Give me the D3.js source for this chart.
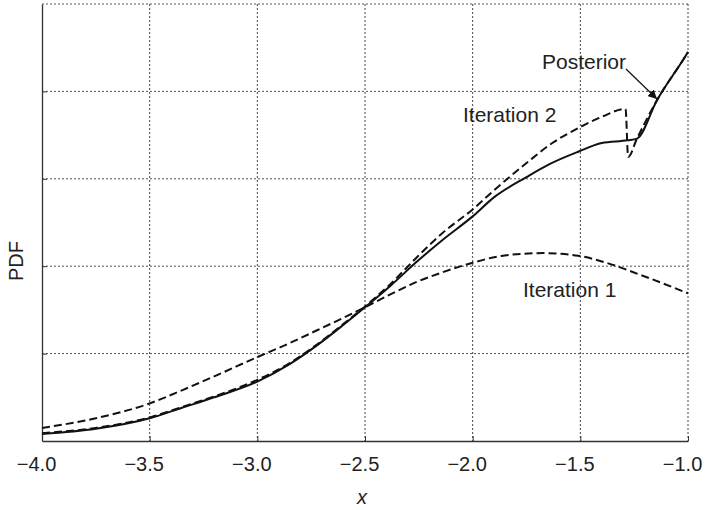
<!DOCTYPE html>
<html>
<head>
<meta charset="utf-8">
<script src="https://cdn.jsdelivr.net/npm/d3@7"></script>
<style>
  body { margin: 0; background: #fff; }
  text { font-family: "Liberation Sans", Arial, sans-serif; fill: #222; }
</style>
</head>
<body>
<div id="chart"></div>
<script>
var w = 706;
var h = 510;

// x positions and PDF values
var postX = [-4.0, -3.75, -3.5, -3.35, -3.2, -3.0, -2.85, -2.72, -2.6, -2.5, -2.38, -2.26, -2.14, -2.0, -1.9, -1.75, -1.65, -1.51, -1.4, -1.28, -1.237, -1.144, -1.023, -1.0];
var postY = [0.08, 0.14, 0.26, 0.38, 0.50, 0.68, 0.88, 1.10, 1.33, 1.53, 1.78, 2.05, 2.30, 2.57, 2.79, 3.02, 3.16, 3.31, 3.41, 3.44, 3.46, 3.90, 4.36, 4.45];

var it2X = [-4.0, -3.75, -3.5, -3.35, -3.2, -3.0, -2.85, -2.72, -2.6, -2.5, -2.38, -2.26, -2.14, -2.0, -1.9, -1.75, -1.63, -1.51, -1.4, -1.29, -1.278, -1.237, -1.144, -1.023, -1.0];
var it2Y = [0.09, 0.15, 0.27, 0.39, 0.51, 0.70, 0.89, 1.11, 1.34, 1.54, 1.80, 2.10, 2.38, 2.65, 2.87, 3.18, 3.41, 3.58, 3.71, 3.80, 3.25, 3.46, 3.90, 4.36, 4.45];

var it1X = [-4.0, -3.75, -3.5, -3.35, -3.2, -3.0, -2.85, -2.72, -2.6, -2.5, -2.38, -2.26, -2.14, -2.0, -1.86, -1.67, -1.51, -1.38, -1.22, -1.0];
var it1Y = [0.15, 0.26, 0.43, 0.58, 0.74, 0.96, 1.12, 1.27, 1.41, 1.53, 1.68, 1.82, 1.93, 2.04, 2.12, 2.15, 2.12, 2.04, 1.90, 1.69];

var xTicks = [-4.0, -3.5, -3.0, -2.5, -2.0, -1.5, -1.0];
var yGrid = [1, 2, 3, 4, 5];

var padL = 42, padR = 688, padT = 4, padB = 441;

var x = d3.scaleLinear().domain([-4, -1]).range([padL, padR]);
var y = d3.scaleLinear().domain([0, 5]).range([padB, padT]);

var svg = d3.select("#chart")
    .append("svg")
    .attr("width", w)
    .attr("height", h);

// grid
svg.selectAll("line.vgrid")
    .data(xTicks.slice(1))
    .enter()
    .append("line")
    .attr("class", "vgrid")
    .attr("x1", function(d){ return x(d); })
    .attr("x2", function(d){ return x(d); })
    .attr("y1", padT)
    .attr("y2", padB)
    .attr("stroke", "#444")
    .attr("stroke-width", 1)
    .attr("stroke-dasharray", "2,2");

svg.selectAll("line.hgrid")
    .data(yGrid)
    .enter()
    .append("line")
    .attr("class", "hgrid")
    .attr("x1", padL)
    .attr("x2", padR)
    .attr("y1", function(d){ return y(d); })
    .attr("y2", function(d){ return y(d); })
    .attr("stroke", "#555")
    .attr("stroke-width", 1)
    .attr("stroke-dasharray", "2,2");

// axes
var xAxis = d3.axisBottom(x)
    .tickValues(xTicks)
    .tickSizeInner(-5)
    .tickSizeOuter(0)
    .tickPadding(16)
    .tickFormat(function(d){ return d3.format(".1f")(d).replace("-", "\u2212"); });

var gx = svg.append("g")
    .attr("transform", "translate(0," + padB + ")")
    .call(xAxis);
gx.select(".domain").attr("stroke", "#333").attr("stroke-width", 1.3);
gx.selectAll(".tick line").attr("stroke", "#333");
gx.selectAll(".tick text")
    .attr("font-size", "20px")
    .attr("font-family", "Liberation Sans, Arial, sans-serif")
    .attr("fill", "#222")
    .attr("dx", -6);

var yAxis = d3.axisLeft(y)
    .tickValues(yGrid.slice(0, 4))
    .tickSizeInner(-5)
    .tickSizeOuter(0)
    .tickFormat("");

var gy = svg.append("g")
    .attr("transform", "translate(" + padL + ",0)")
    .call(yAxis);
gy.select(".domain").attr("stroke", "#333").attr("stroke-width", 1.3);
gy.selectAll(".tick line").attr("stroke", "#333");

// curves
var line = d3.line()
    .x(function(d){ return x(d[0]); })
    .y(function(d){ return y(d[1]); })
    .curve(d3.curveMonotoneX);

var series = [
    { xs: it1X, ys: it1Y, dash: "8,4" },
    { xs: it2X, ys: it2Y, dash: "8,4" },
    { xs: postX, ys: postY, dash: null }
];

svg.selectAll("path.curve")
    .data(series)
    .enter()
    .append("path")
    .attr("class", "curve")
    .attr("d", function(d){ return line(d3.zip(d.xs, d.ys)); })
    .attr("fill", "none")
    .attr("stroke", "#111")
    .attr("stroke-width", 2)
    .attr("stroke-dasharray", function(d){ return d.dash; });

// labels
svg.append("text")
    .text("Iteration 2")
    .attr("x", 463)
    .attr("y", 122)
    .attr("font-size", "21px");

svg.append("text")
    .text("Iteration 1")
    .attr("x", 523)
    .attr("y", 297)
    .attr("font-size", "21px");

svg.append("text")
    .text("Posterior")
    .attr("x", 542)
    .attr("y", 69)
    .attr("font-size", "21px");

svg.append("defs").append("marker")
    .attr("id", "arr")
    .attr("viewBox", "0 0 10 10")
    .attr("refX", 10)
    .attr("refY", 5)
    .attr("markerWidth", 9)
    .attr("markerHeight", 9)
    .attr("markerUnits", "userSpaceOnUse")
    .attr("orient", "auto")
    .append("path")
    .attr("d", "M0,0 L10,5 L0,10 z")
    .attr("fill", "#111");

svg.append("line")
    .attr("x1", 626)
    .attr("y1", 69)
    .attr("x2", 657)
    .attr("y2", 99)
    .attr("stroke", "#111")
    .attr("stroke-width", 1.2)
    .attr("marker-end", "url(#arr)");

svg.append("text")
    .text("PDF")
    .attr("transform", "translate(23,261) rotate(-90)")
    .attr("text-anchor", "middle")
    .attr("font-size", "20px");

svg.append("text")
    .text("x")
    .attr("x", 362)
    .attr("y", 504)
    .attr("text-anchor", "middle")
    .attr("font-style", "italic")
    .attr("font-size", "20px");
</script>
</body>
</html>
